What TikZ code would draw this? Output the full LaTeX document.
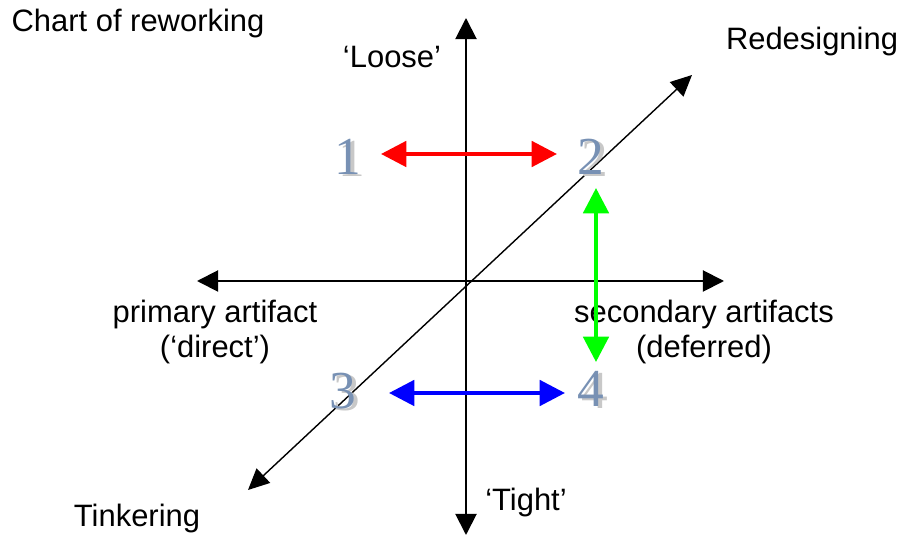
\documentclass[tikz,border=0pt]{standalone}
\usepackage{fontspec}
\setmainfont{Liberation Sans}
\newfontfamily\digitfont{Liberation Serif}
\usepackage{tikz}
\usetikzlibrary{arrows.meta, positioning}
\definecolor{numblue}{RGB}{120, 145, 180}
\definecolor{numgrey}{RGB}{200, 200, 200}
\definecolor{pairred}{RGB}{255, 0, 0}
\definecolor{pairgreen}{RGB}{0, 255, 0}
\definecolor{pairblue}{RGB}{0, 0, 255}
% digit with a grey shadow behind it
\newcommand{\shadedigit}[1]{\rlap{\kern2.6pt\raisebox{-1.4pt}{\color{numgrey}#1}}#1}

\begin{document}
\begin{tikzpicture}[x=0.025cm, y=-0.025cm,
    ax/.style={line width=1.4pt, {Triangle[length=15pt, width=15pt]}-{Triangle[length=15pt, width=15pt]}},
    diag/.style={line width=1pt, {Triangle[length=15pt, width=14pt]}-{Triangle[length=15pt, width=14pt]}},
    pair/.style={line width=2.8pt, {Triangle[length=18pt, width=18pt]}-{Triangle[length=18pt, width=18pt]}},
    lbl/.style={font=\fontsize{22}{25}\selectfont, inner sep=0pt, align=center},
    num/.style={font=\digitfont\fontsize{38}{40}\selectfont, inner sep=0pt, text=numblue}]
  \useasboundingbox (0,0) rectangle (904,544);

  % axes
  \coordinate (top)    at (466, 18);
  \coordinate (bottom) at (466, 535);
  \coordinate (left)   at (197, 281);
  \coordinate (right)  at (724, 281);
  \coordinate (ne)     at (692, 75);
  \coordinate (sw)     at (248, 490);
  \draw[ax] (bottom) -- (top);
  \draw[ax] (left) -- (right);
  \draw[diag] (sw) -- (ne);

  % labels
  \node[lbl] (title) at (138, 24)  {Chart of reworking};
  \node[lbl] (loose) at (392, 57)  {`Loose'};
  \node[lbl] (redes) at (812, 42)  {Redesigning};
  \node[lbl] (prim)  at (215, 332) {primary artifact\\(`direct')};
  \node[lbl] (sec)   at (704, 332) {secondary artifacts\\(deferred)};
  \node[lbl] (tink)  at (137, 519) {Tinkering};
  \node[lbl] (tight) at (526, 503) {`Tight'};

  % numbered corners
  \node[num] (n1) at (348, 158) {\shadedigit{1}};
  \node[num] (n2) at (591, 158) {\shadedigit{2}};
  \node[num] (n3) at (343, 392) {\shadedigit{3}};
  \node[num] (n4) at (591, 390) {\shadedigit{4}};

  % transitions
  \coordinate (r1) at (381, 154);
  \coordinate (r2) at (557, 154);
  \coordinate (g2) at (596, 188);
  \coordinate (g4) at (596, 362);
  \coordinate (b3) at (389, 393);
  \coordinate (b4) at (565, 393);
  \draw[pair, pairred]   (r1) -- (r2);
  \draw[pair, pairgreen] (g2) -- (g4);
  \draw[pair, pairblue]  (b3) -- (b4);
\end{tikzpicture}
\end{document}
